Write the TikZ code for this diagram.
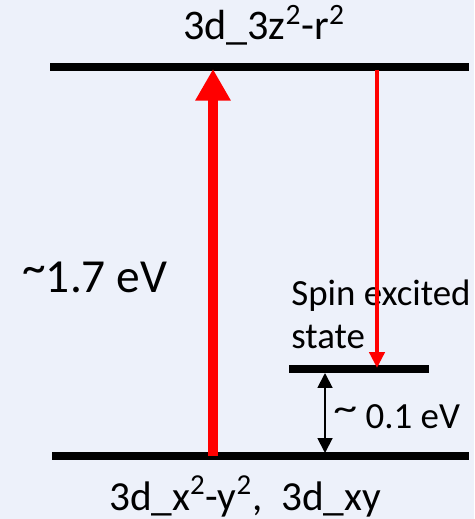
\documentclass[tikz,border=0pt]{standalone}
\usepackage{fontspec}
\setmainfont{Carlito}
\usetikzlibrary{arrows.meta}
\definecolor{slidebg}{RGB}{237,241,250}
\newcommand\hitilde{\raisebox{0.2em}{\textasciitilde}}
\newcommand\broadtilde{\raisebox{0.2em}{\scalebox{1.3}[1]{\textasciitilde}}}

\begin{document}
\begin{tikzpicture}[
    x=0.02cm,y=-0.02cm,
    level/.style={line width=4pt},
    lbl/.style={inner sep=0pt, font=\fontsize{24}{29}\selectfont},
    small/.style={inner sep=0pt, align=left, font=\fontsize{21}{24.4}\selectfont},
    pump/.style={red, line width=5.7pt, -{Triangle[length=18pt,width=19pt]}},
    decay/.style={red, line width=2.6pt, -{Triangle[length=9pt,width=8.5pt]}},
    gap/.style={line width=1.1pt, {Triangle[length=8.5pt,width=8.5pt]}-{Triangle[length=8.5pt,width=8.5pt]}}
  ]
    \fill[slidebg] (0,0) rectangle (474,519);
    \useasboundingbox (0,0) rectangle (474,519);

    % energy levels
    \coordinate (upL) at (50,67);
    \coordinate (upR) at (469,67);
    \coordinate (spinL) at (289,369);
    \coordinate (spinR) at (429,369);
    \coordinate (lowL) at (52,456);
    \coordinate (lowR) at (469,456);
    \draw[level] (upL) -- (upR);
    \draw[level] (spinL) -- (spinR);
    \draw[level] (lowL) -- (lowR);

    % arrow ends
    \coordinate (pumpS) at (213,456);
    \coordinate (pumpE) at (213,69);
    \coordinate (decayS) at (377,70);
    \coordinate (decayE) at (377,368);
    \coordinate (gapT) at (325,373);
    \coordinate (gapB) at (325,453);

    \node[lbl, anchor=base] (uplbl) at (264,40) {3d\_3z\textsuperscript{2}-r\textsuperscript{2}};
    \node[lbl, anchor=base west, font=\fontsize{27}{32}\selectfont] (energy) at (22,293) {\hitilde1.7 eV};
    \node[small, anchor=north west] (spinlbl) at (291,280) {Spin excited\\state};
    \node[small, anchor=base west] (gaplbl) at (333,428) {\broadtilde\ 0.1 eV};
    \node[lbl, anchor=base, font=\fontsize{23.5}{28}\selectfont] (lowlbl) at (245,510) {3d\_x\textsuperscript{2}-y\textsuperscript{2}, \ 3d\_xy};

    \draw[pump] (pumpS) -- (pumpE);
    \draw[decay] (decayS) -- (decayE);
    \draw[gap] (gapT) -- (gapB);
  \end{tikzpicture}
\end{document}
